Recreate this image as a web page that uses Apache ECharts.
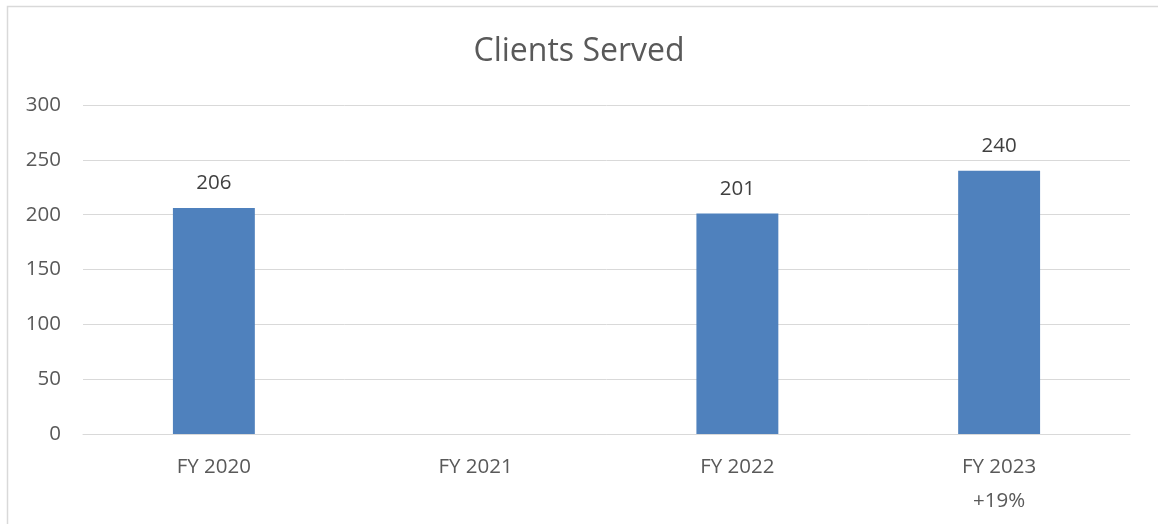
<!DOCTYPE html>
<html>
<head>
<meta charset="utf-8">
<script src="https://cdn.jsdelivr.net/npm/echarts@6/dist/echarts.min.js"></script>
<style>html,body{margin:0;padding:0;background:#fff}#c{width:1158px;height:524px}</style>
</head>
<body>
<div id="c"></div>
<script>
const categories = ['FY 2020', 'FY 2021', 'FY 2022', 'FY 2023\n+19%'];
const clientsServed = [206, null, 201, 240];
const yTicks = [0, 50, 100, 150, 200, 250, 300];

const chart = echarts.init(document.getElementById('c'), null, {renderer: 'canvas'});
const font = '"Open Sans", "Noto Sans", sans-serif';
chart.setOption({
  animation: false,
  backgroundColor: '#fff',
  title: {
    text: 'Clients Served',
    left: 'center',
    top: 31,
    textStyle: {fontFamily: font, fontSize: 32, fontWeight: 'normal', color: '#595959'}
  },
  graphic: [{
    type: 'rect',
    shape: {x: 7.5, y: 6.5, width: 1170, height: 540},
    style: {fill: 'none', stroke: '#d9d9d9', lineWidth: 1.5},
    silent: true, z: -1
  }],
  grid: {left: 83, right: 28, top: 105, bottom: 90, containLabel: false},
  xAxis: {
    type: 'category',
    data: categories,
    axisLine: {show: true, lineStyle: {color: '#d9d9d9', width: 1}},
    axisTick: {show: false},
    axisLabel: {fontFamily: font, fontSize: 20.5, color: '#595959', margin: 16, lineHeight: 34}
  },
  yAxis: {
    type: 'value',
    min: yTicks[0],
    max: yTicks[yTicks.length - 1],
    interval: 50,
    axisLine: {show: false},
    axisTick: {show: false},
    splitLine: {lineStyle: {color: '#d9d9d9', width: 1}},
    axisLabel: {fontFamily: font, fontSize: 20.5, color: '#595959', margin: 22}
  },
  series: [{
    type: 'bar',
    data: clientsServed,
    barWidth: '31.3%',
    itemStyle: {color: '#4f81bd'},
    label: {show: true, position: 'top', distance: 14, fontFamily: font, fontSize: 20.5, color: '#404040'}
  }]
});
</script>
</body>
</html>
